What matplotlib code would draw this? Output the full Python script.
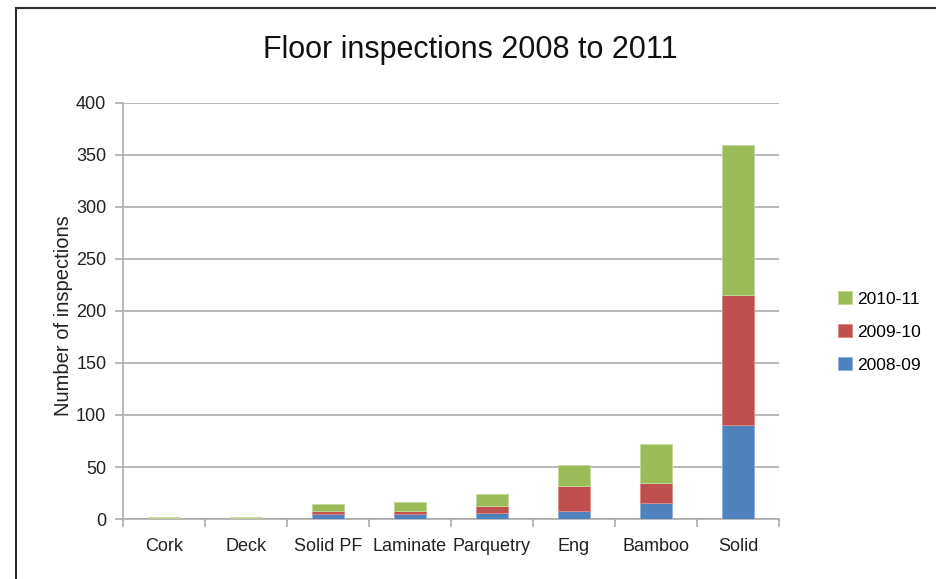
import matplotlib

matplotlib.use("Agg")
import matplotlib.pyplot as plt  # noqa: E402
import numpy as np  # noqa: E402
from matplotlib.lines import Line2D  # noqa: E402

plt.rcParams["font.family"] = ["Liberation Sans", "DejaVu Sans"]

categories = ["Cork", "Deck", "Solid PF", "Laminate", "Parquetry", "Eng", "Bamboo", "Solid"]
series_names = ["2008-09", "2009-10", "2010-11"]
legend_labels = ["2008-09", "2009-10", "2010-11"]
v_2008_09 = [0, 0, 5, 5, 5.5, 8, 15, 90]
v_2009_10 = [0.5, 0.5, 3, 3, 7, 24, 20, 125]
v_2010_11 = [1.8, 1.8, 6, 8, 12, 20, 37, 145]
colors = ["#4f81bd", "#c0504d", "#9bbb59"]
edge_colors = ["#8db0dc", "#db8a88", "#c3d99c"]
y_ticks = [0, 50, 100, 150, 200, 250, 300, 350, 400]

W, H = 937, 579
fig = plt.figure(figsize=(W / 100, H / 100), dpi=100)
ax = fig.add_axes([123 / W, 1 - 519 / H, (779 - 123) / W, (519 - 103) / H])

x = np.arange(len(categories))
bottom = np.zeros(len(categories))
handles = []
for name, vals, col, ec in zip(series_names, [v_2008_09, v_2009_10, v_2010_11], colors, edge_colors):
    b = ax.bar(x, vals, width=0.4, bottom=bottom, color=col, edgecolor=ec,
               linewidth=0.6, label=name, zorder=3)
    handles.append(b)
    bottom += np.array(vals)

ax.set_xlim(-0.5, len(categories) - 0.5)
ax.set_ylim(0, 400)
ax.set_yticks(y_ticks)
ax.set_yticklabels([str(t) for t in y_ticks], fontsize=13, color="#222222")
ax.yaxis.grid(True, color="#ababab", linewidth=1.2, zorder=0)
ax.set_axisbelow(True)

# category labels centred, tick marks on the category boundaries
ax.set_xticks(x)
ax.set_xticklabels(categories, fontsize=13, color="#222222")
ax.tick_params(axis="x", length=0, pad=14)
ax.set_xticks(np.arange(len(categories) + 1) - 0.5, minor=True)
ax.tick_params(axis="x", which="minor", length=6, direction="out", color="#ababab", width=1.2)
ax.tick_params(axis="y", length=6, direction="out", color="#ababab", width=1.2, pad=6)

for side in ["top", "right"]:
    ax.spines[side].set_visible(False)
for side in ["left", "bottom"]:
    ax.spines[side].set_color("#ababab")
    ax.spines[side].set_linewidth(1.2)

ax.set_ylabel("Number of inspections", fontsize=14.5, color="#222222")
ax.yaxis.set_label_coords(-0.076, 0.49)

fig.text(470 / W, 1 - 50 / H, "Floor inspections 2008 to 2011", fontsize=22,
         ha="center", va="center", color="#111111")

leg = ax.legend(handles[::-1], legend_labels[::-1], loc="center left",
                bbox_to_anchor=(826 / W, 1 - 332 / H), bbox_transform=fig.transFigure,
                frameon=False, fontsize=12.5, handlelength=0.8, handleheight=0.8,
                handletextpad=0.3, labelspacing=1.0, borderpad=0.2)

# outer frame (left and top edges visible)
fig.add_artist(Line2D([16 / W, 16 / W], [0, 1 - 8 / H], transform=fig.transFigure,
                      color="black", linewidth=1.2))
fig.add_artist(Line2D([16 / W, 1], [1 - 8 / H, 1 - 8 / H], transform=fig.transFigure,
                      color="#333333", linewidth=1.6))

fig.savefig("out.png", dpi=100)
